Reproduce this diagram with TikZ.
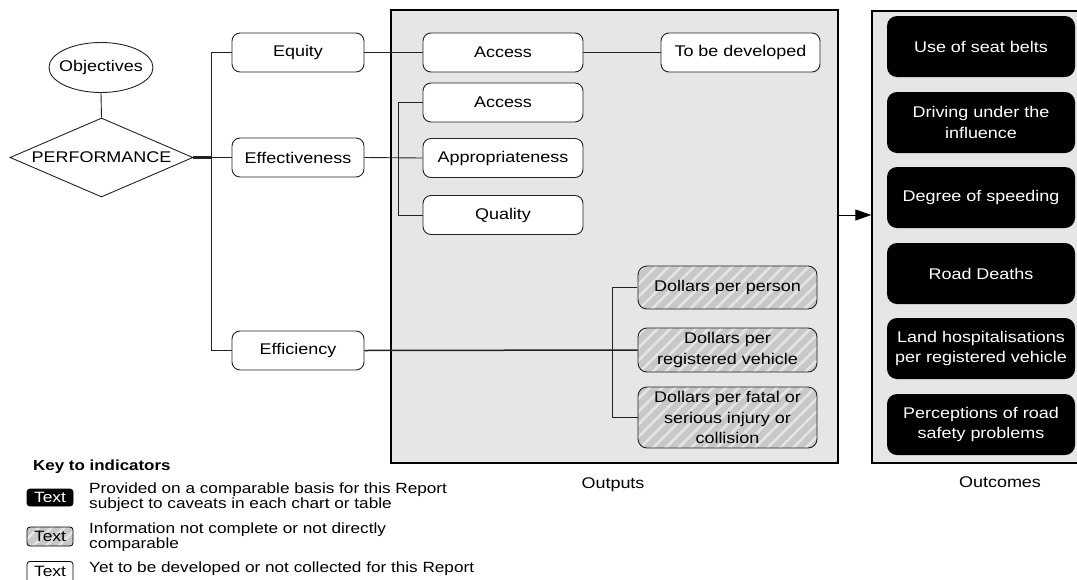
\documentclass[tikz,border=0pt]{standalone}
\usepackage{fontspec}
\setmainfont[FakeStretch=1.16]{Liberation Sans}
\usetikzlibrary{shapes.geometric,arrows.meta,patterns.meta}
\definecolor{panelgray}{HTML}{E6E6E6}
\definecolor{hatchgray}{HTML}{C8C8C8}
\definecolor{stripe}{HTML}{E4E4E4}
\definecolor{linegray}{HTML}{222222}
\newcommand\mainfs{\fontsize{15.5}{20.5}\selectfont}
\newcommand\keyfs{\fontsize{14.8}{14.5}\selectfont}
\tikzset{
  every node/.append style={font=\mainfs, text=black},
  conn/.style={draw=linegray, line width=0.9pt},
  wbox/.style={draw=linegray, line width=0.9pt, rounded corners=8pt, fill=white, inner sep=0pt, align=center, minimum height=39pt},
  hbox/.style={draw=linegray, line width=0.9pt, rounded corners=9pt, inner sep=0pt, align=center, minimum width=179pt,
     preaction={fill=hatchgray}, pattern={Lines[angle=45,distance=9pt,line width=2.6pt]}, pattern color=stripe},
  bbox/.style={fill=black, rounded corners=10pt, inner sep=0pt, align=center, minimum width=188pt, minimum height=61pt, text=white},
  panel/.style={draw=black, line width=1.4pt, fill=panelgray, inner sep=0pt},
  swatch/.style={draw=black, line width=0.8pt, rounded corners=3pt, inner sep=0pt, minimum width=46pt, font=\fontsize{15}{15}\selectfont},
  keytext/.style={anchor=west, align=left, font=\keyfs, inner sep=0pt}
}
\begin{document}
\begin{tikzpicture}[x=1pt,y=-1pt]
\clip (0,0) rectangle (1077,579);
\useasboundingbox (0,0) rectangle (1077,579);
% panels
\node[panel, minimum width=447pt, minimum height=453pt] (outp) at (614.5,236.5) {};
\node[panel, minimum width=220pt, minimum height=452pt] (outc) at (982,237) {};
% objectives and performance
\node[ellipse, draw=linegray, line width=0.9pt, minimum width=104pt, minimum height=50pt, inner sep=0pt, label=center:Objectives] (obj) at (101,67.5) {};
\node[diamond, draw=linegray, line width=0.9pt, minimum width=183pt, minimum height=79pt, inner sep=0pt, label=center:PERFORMANCE] (perf) at (101.5,157.5) {};
% left column
\node[wbox, minimum width=132pt] (equity) at (298,52.5) {Equity};
\node[wbox, minimum width=132pt] (effect) at (298,157.5) {Effectiveness};
\node[wbox, minimum width=132pt] (effic) at (298,350.5) {Efficiency};
% outputs
\node[wbox, minimum width=160pt] (acc1) at (503,52.5) {Access};
\node[wbox, minimum width=159pt] (tbd) at (740.5,52.5) {To be developed};
\node[wbox, minimum width=160pt] (acc2) at (503,102.5) {Access};
\node[wbox, minimum width=160pt] (appr) at (503,158) {Appropriateness};
\node[wbox, minimum width=160pt] (qual) at (503,215) {Quality};
\node[hbox, minimum height=43pt] (dper) at (727.5,287.5) {Dollars per person};
\node[hbox, minimum height=44pt] (dreg) at (727.5,350) {Dollars per\\registered vehicle};
\node[hbox, minimum height=61pt] (dfat) at (727.5,417.5) {Dollars per fatal or\\serious injury or\\collision};
% outcomes
\node[bbox] (o1) at (981,46.5) {Use of seat belts};
\node[bbox] (o2) at (981,122.5) {Driving under the\\influence};
\node[bbox] (o3) at (981,197.5) {Degree of speeding};
\node[bbox] (o4) at (981,273.5) {Road Deaths};
\node[bbox] (o5) at (981,348.5) {Land hospitalisations\\per registered vehicle};
\node[bbox] (o6) at (981,424.5) {Perceptions of road\\safety problems};
% labels
\node (lout) at (613,485) {Outputs};
\node (lotc) at (1000,482) {Outcomes};
% connectors
\coordinate (jL) at (212,157.5);
\draw[conn] (obj.south) -- (perf.north);
\draw[draw=linegray, line width=2.4pt] (perf.east) -- (jL);
\draw[conn] (equity.west) -- ++(-20,0) |- (effic.west);
\draw[conn] (jL) -- (effect.west);
\draw[conn] (equity.east) -- (acc1.west);
\draw[conn] (acc1.east) -- (tbd.west);
\draw[conn] (effect.east) -- (appr.west);
\draw[conn] (acc2.west) -- ++(-24,0) |- (qual.west);
\draw[draw=linegray, line width=1.5pt] (effic.east) -- (dreg.west);
\draw[conn] (dper.west) -- ++(-24,0) |- (dfat.west);
\draw[draw=black, line width=1pt, -{Triangle[length=16pt,width=11pt]}] (qual -| outp.east) -- (qual -| outc.west);
% key
\node[anchor=west, inner sep=0pt, font=\fontsize{14.6}{14}\selectfont\bfseries] (keyt) at (33,467) {Key to indicators};
\node[swatch, fill=black, text=white, minimum height=17pt] (s1) at (50,497.5) {Text};
\node[keytext] (k1) at (89,497) {Provided on a comparable basis for this Report\\subject to caveats in each chart or table};
\node[swatch, minimum height=19pt, preaction={fill=hatchgray}, pattern={Lines[angle=45,distance=9pt,line width=2.6pt]}, pattern color=stripe] (s2) at (50,536.5) {Text};
\node[keytext] (k2) at (89,537) {Information not complete or not directly\\comparable};
\node[swatch, fill=white, minimum height=24pt, anchor=north] (s3) at (50,561) {\raisebox{3.5pt}{Text}};
\node[keytext] (k3) at (89,569) {Yet to be developed or not collected for this Report};
\end{tikzpicture}
\end{document}
